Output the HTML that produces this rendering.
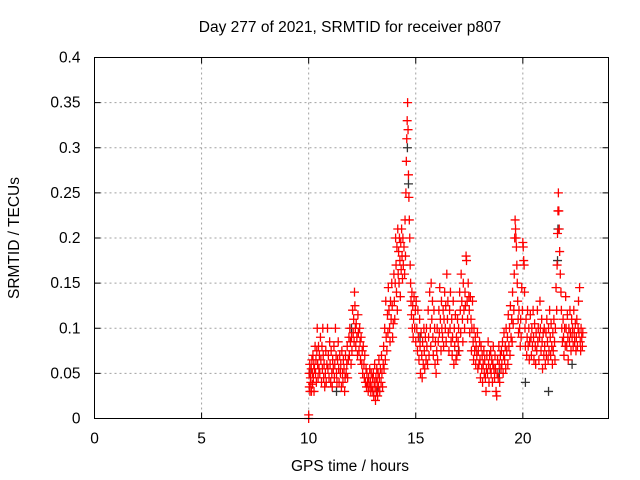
<!DOCTYPE html>
<html><head><meta charset="utf-8"><style>
body{margin:0;background:#fff;}
svg{display:block;font-family:"Liberation Sans",sans-serif;}
</style></head><body>
<svg id="chart" width="640" height="480">
<text x="350" y="32" text-anchor="middle" font-size="15.5" fill="#000">Day 277 of 2021, SRMTID for receiver p807</text>
<text x="350" y="471" text-anchor="middle" font-size="15.5" fill="#000">GPS time / hours</text>
<text transform="translate(19,238) rotate(-90)" text-anchor="middle" font-size="15.5" fill="#000">SRMTID / TECUs</text>
<g id="grid"></g><g id="ticks"></g><g id="black"></g><g id="red"></g>
<rect x="94.5" y="57.5" width="514" height="361" fill="none" stroke="#000" stroke-width="1"/>
</svg>
<script>
const xTicks=[0,5,10,15,20];
const yTicks=[0,0.05,0.1,0.15,0.2,0.25,0.3,0.35,0.4];
const yTickLabels=["0","0.05","0.1","0.15","0.2","0.25","0.3","0.35","0.4"];
const redPoints=[
[10,0],[10,0.004],[10.02,0.05],[10.03,0.035],[10.05,0.06],[10.06,0.03],[10.08,0.045],[10.1,0.04],[10.12,0.055],[10.13,0.03],[10.15,0.065],[10.17,0.05],[10.18,0.038],[10.2,0.07],[10.22,0.045],[10.24,0.06],[10.25,0.03],[10.27,0.055],[10.3,0.08],[10.32,0.05],[10.34,0.065],[10.36,0.04],[10.38,0.075],[10.4,0.1],[10.42,0.06],[10.44,0.045],[10.46,0.08],[10.48,0.055],[10.5,0.07],
[10.52,0.05],[10.55,0.09],[10.57,0.065],[10.6,0.04],[10.62,0.08],[10.64,0.055],[10.66,0.1],[10.68,0.07],[10.7,0.045],[10.72,0.06],[10.75,0.035],[10.78,0.05],[10.8,0.075],[10.82,0.04],[10.85,0.06],[10.88,0.1],[10.9,0.055],[10.92,0.07],[10.95,0.045],[10.98,0.085],
[11,0.06],[11.03,0.04],[11.05,0.075],[11.08,0.05],[11.1,0.035],[11.12,0.065],[11.15,0.055],[11.18,0.08],[11.2,0.045],[11.22,0.06],[11.25,0.1],[11.28,0.07],[11.3,0.05],[11.32,0.04],[11.35,0.065],[11.38,0.085],[11.4,0.055],[11.42,0.04],[11.45,0.07],[11.48,0.05],
[11.5,0.06],[11.53,0.035],[11.55,0.075],[11.58,0.05],[11.6,0.04],[11.62,0.065],[11.65,0.055],[11.68,0.03],[11.7,0.045],[11.72,0.07],[11.75,0.05],[11.78,0.06],[11.8,0.08],[11.82,0.045],[11.85,0.065],[11.88,0.09],[11.9,0.07],[11.92,0.1],[11.95,0.085],[11.98,0.06],
[12,0.09],[12.02,0.075],[12.05,0.12],[12.08,0.095],[12.1,0.11],[12.12,0.085],[12.14,0.14],[12.16,0.125],[12.18,0.1],[12.2,0.08],[12.22,0.105],[12.25,0.09],[12.28,0.07],[12.3,0.115],[12.32,0.095],[12.35,0.075],[12.38,0.1],[12.4,0.085],[12.42,0.065],[12.45,0.09],[12.48,0.06],
[12.5,0.075],[12.52,0.05],[12.55,0.08],[12.58,0.06],[12.6,0.045],[12.62,0.07],[12.65,0.04],[12.68,0.055],[12.7,0.035],[12.72,0.05],[12.75,0.04],[12.78,0.03],[12.8,0.045],[12.82,0.035],[12.85,0.055],[12.88,0.04],[12.9,0.03],[12.92,0.05],[12.95,0.035],[12.98,0.045],
[13,0.03],[13.02,0.05],[13.04,0.025],[13.06,0.04],[13.08,0.06],[13.1,0.035],[13.12,0.02],[13.14,0.045],[13.16,0.03],[13.18,0.055],[13.2,0.04],[13.22,0.025],[13.24,0.05],[13.26,0.035],[13.28,0.065],[13.3,0.045],[13.32,0.03],[13.35,0.055],[13.38,0.04],[13.4,0.07],[13.42,0.05],[13.45,0.035],[13.48,0.06],
[13.5,0.08],[13.52,0.055],[13.55,0.1],[13.58,0.065],[13.6,0.13],[13.62,0.09],[13.65,0.075],[13.68,0.115],[13.7,0.095],[13.72,0.145],[13.75,0.12],[13.78,0.1],[13.8,0.085],[13.82,0.13],[13.85,0.11],[13.88,0.15],[13.9,0.125],[13.92,0.09],[13.95,0.105],[13.98,0.16],
[14,0.13],[14.02,0.11],[14.04,0.15],[14.06,0.2],[14.08,0.17],[14.1,0.14],[14.12,0.19],[14.14,0.12],[14.16,0.21],[14.18,0.16],[14.2,0.185],[14.22,0.15],[14.24,0.2],[14.26,0.175],[14.28,0.135],[14.3,0.195],[14.32,0.165],[14.34,0.21],[14.36,0.18],[14.38,0.155],[14.4,0.2],[14.42,0.17],[14.45,0.19],[14.48,0.16],
[14.5,0.22],[14.52,0.18],[14.54,0.25],[14.56,0.285],[14.58,0.31],[14.6,0.33],[14.62,0.35],[14.64,0.32],[14.66,0.27],[14.68,0.245],[14.7,0.22],[14.72,0.2],[14.74,0.17],[14.76,0.15],[14.78,0.13],[14.8,0.115],[14.82,0.14],[14.84,0.1],[14.86,0.125],[14.88,0.09],[14.9,0.11],[14.92,0.135],[14.95,0.1],[14.98,0.12],
[15,0.085],[15.02,0.13],[15.05,0.1],[15.08,0.075],[15.1,0.12],[15.12,0.09],[15.15,0.065],[15.18,0.11],[15.2,0.08],[15.22,0.05],[15.25,0.095],[15.28,0.07],[15.3,0.045],[15.32,0.085],[15.35,0.06],[15.38,0.1],[15.4,0.075],[15.42,0.055],[15.45,0.09],[15.48,0.065],
[15.5,0.1],[15.52,0.08],[15.55,0.06],[15.58,0.12],[15.6,0.09],[15.62,0.07],[15.65,0.14],[15.68,0.1],[15.7,0.08],[15.72,0.15],[15.75,0.11],[15.78,0.13],[15.8,0.09],[15.82,0.07],[15.85,0.12],[15.88,0.1],[15.9,0.06],[15.92,0.085],[15.95,0.05],[15.98,0.075],
[16,0.1],[16.02,0.065],[16.05,0.085],[16.08,0.12],[16.1,0.095],[16.12,0.145],[16.15,0.11],[16.18,0.075],[16.2,0.13],[16.22,0.1],[16.25,0.09],[16.28,0.12],[16.3,0.08],[16.32,0.11],[16.35,0.14],[16.38,0.1],[16.4,0.125],[16.42,0.085],[16.45,0.16],[16.48,0.11],
[16.5,0.13],[16.52,0.095],[16.55,0.075],[16.58,0.12],[16.6,0.1],[16.62,0.14],[16.65,0.085],[16.68,0.11],[16.7,0.07],[16.72,0.09],[16.75,0.13],[16.78,0.06],[16.8,0.1],[16.82,0.08],[16.85,0.115],[16.88,0.065],[16.9,0.09],[16.92,0.07],[16.95,0.11],[16.98,0.085],
[17,0.1],[17.02,0.075],[17.05,0.14],[17.08,0.12],[17.1,0.095],[17.12,0.16],[17.15,0.13],[17.18,0.11],[17.2,0.085],[17.22,0.15],[17.25,0.12],[17.28,0.1],[17.3,0.14],[17.32,0.125],[17.35,0.18],[17.37,0.175],[17.4,0.13],[17.42,0.11],[17.45,0.15],[17.48,0.135],
[17.5,0.12],[17.52,0.095],[17.55,0.135],[17.58,0.11],[17.6,0.075],[17.62,0.1],[17.65,0.13],[17.68,0.085],[17.7,0.065],[17.72,0.1],[17.75,0.075],[17.78,0.09],[17.8,0.06],[17.82,0.08],[17.85,0.07],[17.88,0.095],[17.9,0.055],[17.92,0.075],[17.95,0.06],[17.98,0.085],
[18,0.065],[18.02,0.045],[18.05,0.08],[18.08,0.055],[18.1,0.07],[18.12,0.04],[18.15,0.06],[18.18,0.075],[18.2,0.05],[18.22,0.065],[18.25,0.045],[18.28,0.03],[18.3,0.055],[18.32,0.07],[18.35,0.05],[18.38,0.085],[18.4,0.06],[18.42,0.04],[18.45,0.07],[18.48,0.055],
[18.5,0.075],[18.52,0.05],[18.55,0.065],[18.58,0.04],[18.6,0.06],[18.62,0.08],[18.65,0.055],[18.68,0.045],[18.7,0.07],[18.72,0.055],[18.75,0.03],[18.78,0.025],[18.8,0.05],[18.82,0.065],[18.85,0.045],[18.88,0.08],[18.9,0.06],[18.92,0.04],[18.95,0.07],[18.98,0.055],
[19,0.075],[19.02,0.06],[19.05,0.085],[19.08,0.05],[19.1,0.07],[19.12,0.095],[19.15,0.065],[19.18,0.08],[19.2,0.055],[19.22,0.1],[19.25,0.075],[19.28,0.09],[19.3,0.06],[19.32,0.115],[19.35,0.08],[19.38,0.1],[19.4,0.07],[19.42,0.125],[19.45,0.09],[19.48,0.11],
[19.5,0.085],[19.52,0.14],[19.55,0.105],[19.58,0.12],[19.6,0.16],[19.62,0.2],[19.64,0.22],[19.66,0.21],[19.68,0.2],[19.7,0.19],[19.72,0.17],[19.74,0.15],[19.76,0.13],[19.78,0.11],[19.8,0.095],[19.82,0.12],[19.85,0.1],[19.88,0.08],[19.9,0.11],[19.92,0.09],[19.95,0.145],[19.98,0.12],
[20,0.195],[20.02,0.19],[20.04,0.175],[20.06,0.17],[20.08,0.14],[20.1,0.1],[20.12,0.08],[20.15,0.11],[20.18,0.07],[20.2,0.09],[20.22,0.12],[20.25,0.08],[20.28,0.1],[20.3,0.065],[20.32,0.085],[20.35,0.115],[20.38,0.09],[20.4,0.07],[20.42,0.1],[20.45,0.08],[20.48,0.12],
[20.5,0.09],[20.52,0.065],[20.55,0.105],[20.58,0.08],[20.6,0.06],[20.62,0.095],[20.65,0.075],[20.68,0.12],[20.7,0.085],[20.72,0.1],[20.75,0.065],[20.78,0.09],[20.8,0.13],[20.82,0.1],[20.85,0.075],[20.88,0.11],[20.9,0.085],[20.92,0.055],[20.95,0.095],[20.98,0.07],
[21,0.1],[21.02,0.08],[21.05,0.06],[21.08,0.095],[21.1,0.07],[21.12,0.11],[21.15,0.085],[21.18,0.065],[21.2,0.1],[21.22,0.075],[21.25,0.12],[21.28,0.09],[21.3,0.07],[21.32,0.105],[21.35,0.08],[21.38,0.06],[21.4,0.095],[21.42,0.075],[21.45,0.11],[21.48,0.085],
[21.5,0.065],[21.52,0.1],[21.55,0.145],[21.58,0.12],[21.6,0.17],[21.62,0.205],[21.64,0.23],[21.66,0.25],[21.68,0.23],[21.7,0.21],[21.72,0.185],[21.75,0.16],[21.78,0.14],[21.8,0.12],[21.82,0.1],[21.85,0.085],[21.88,0.11],[21.9,0.09],[21.92,0.07],[21.95,0.1],[21.98,0.08],
[22,0.135],[22.02,0.1],[22.05,0.08],[22.08,0.115],[22.1,0.09],[22.12,0.065],[22.15,0.1],[22.18,0.085],[22.2,0.12],[22.22,0.095],[22.25,0.075],[22.28,0.11],[22.3,0.09],[22.32,0.1],[22.35,0.08],[22.38,0.12],[22.4,0.095],[22.42,0.085],[22.45,0.105],[22.48,0.075],[22.5,0.09],[22.52,0.11],[22.55,0.08],[22.58,0.1],[22.6,0.13],[22.62,0.095],[22.65,0.145],[22.68,0.085],[22.7,0.075],[22.72,0.1],[22.75,0.09],[22.78,0.08],[22.8,0.095]
];
const blackPoints=[[10.05,0.05],[11.3,0.03],[12.0,0.1],[13.2,0.03],[14.61,0.3],[14.66,0.26],[15.2,0.09],[17.0,0.075],[18.9,0.05],[20.12,0.04],[21.2,0.03],[21.62,0.175],[21.64,0.21],[22.3,0.06]];

const NS="http://www.w3.org/2000/svg";
const L=94.5,R=608.5,T=57.5,B=418.5;
function xs(t){return L+(R-L)*t/24;}
function ys(v){return B-(B-T)*v/0.4;}
const grid=document.getElementById('grid'),ticks=document.getElementById('ticks');
function mk(tag,at,parent){const e=document.createElementNS(NS,tag);for(const k in at)e.setAttribute(k,at[k]);parent.appendChild(e);return e;}
xTicks.forEach(t=>{
  const x=xs(t);
  if(t>0){const g=mk('line',{x1:x,y1:T,x2:x,y2:B,stroke:'#a0a0a0','stroke-dasharray':'2,3'},grid);
  
  }
  mk('line',{x1:x,y1:B,x2:x,y2:B-6,stroke:'#000'},ticks);
  mk('line',{x1:x,y1:T,x2:x,y2:T+6,stroke:'#000'},ticks);
  const tx=mk('text',{x:x,y:B+25,'text-anchor':'middle','font-size':15.5},ticks);
  tx.textContent=t;
  
  
});
yTicks.forEach((v,i)=>{
  const y=ys(v);
  if(v>0&&v<0.4){const g=mk('line',{x1:L,y1:y,x2:R,y2:y,stroke:'#a0a0a0','stroke-dasharray':'2,3'},grid);
  
  }
  mk('line',{x1:L,y1:y,x2:L+6,y2:y,stroke:'#000'},ticks);
  mk('line',{x1:R,y1:y,x2:R-6,y2:y,stroke:'#000'},ticks);
  const tx=mk('text',{x:L-14,y:y+5,'text-anchor':'end','font-size':15.5},ticks);
  tx.textContent=yTickLabels[i];
  
  
});
function plus(parent,t,v,color){
  const x=xs(t),y=ys(v);
  return mk('path',{d:`M${x-4.5},${y}H${x+4.5}M${x},${y-4.5}V${y+4.5}`,stroke:color,'stroke-width':1.3,fill:'none'},parent);
}
const bl=document.getElementById('black');
blackPoints.forEach(p=>{
  const m=plus(bl,p[0],p[1],'#333');
  
  
});
const rd=document.getElementById('red');
redPoints.forEach(p=>{
  const m=plus(rd,p[0],p[1],'#ff0000');
  
  
});
</script>
</body></html>
